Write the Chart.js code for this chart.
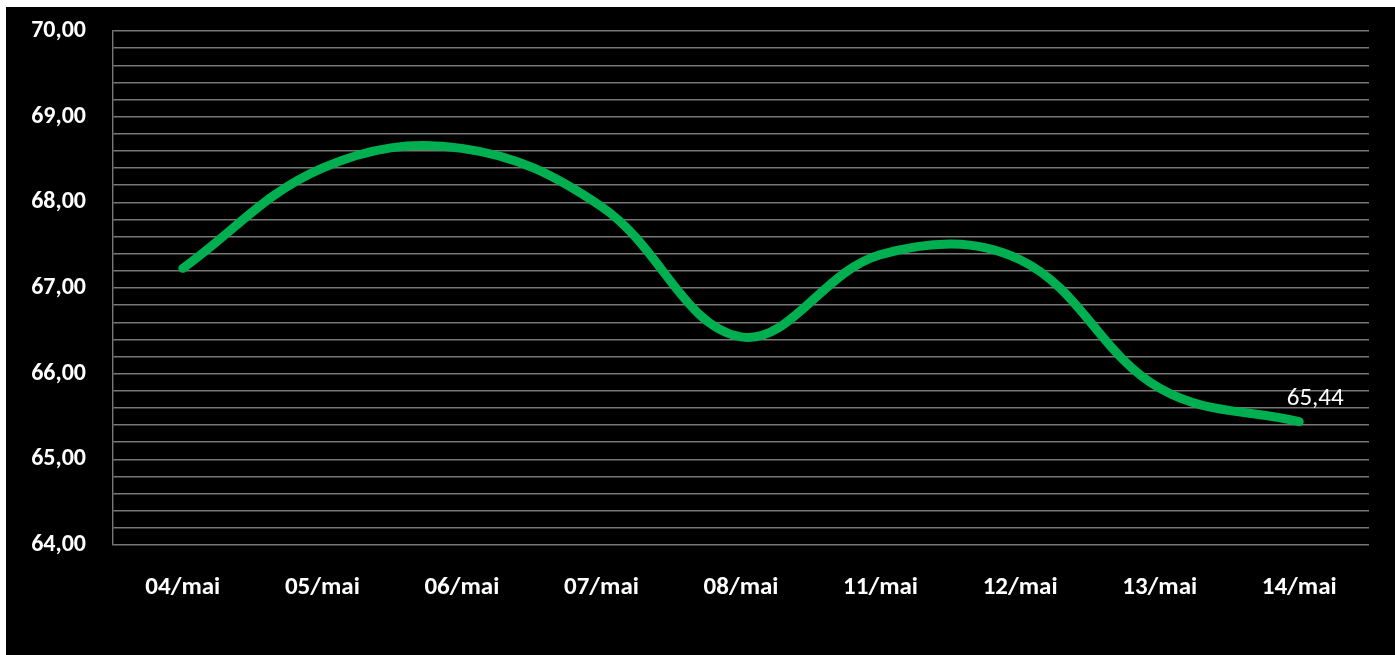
<!DOCTYPE html>
<html>
<head>
<meta charset="utf-8">
<script src="https://cdn.jsdelivr.net/npm/chart.js@4/dist/chart.umd.min.js"></script>
<style>
  html, body { margin:0; padding:0; background:#fff; }
  #wrap { position:absolute; left:6px; top:7px; width:1389px; height:648px; background:#000; }
</style>
</head>
<body>
<div id="wrap"><canvas id="chart-line"></canvas></div>
<script>
// ---- dados ----
const labels = ['04/mai','05/mai','06/mai','07/mai','08/mai','11/mai','12/mai','13/mai','14/mai'];
const values = [67.23, 68.40, 68.63, 67.95, 66.43, 67.39, 67.33, 65.83, 65.44];
const yMin = 64, yMax = 70, yStep = 0.2;

const FONT = 'Carlito, Lato, sans-serif';
const fmt = v => v.toFixed(2).replace('.', ',');

// rótulo só no último ponto
const lastLabel = {
  id: 'lastLabel',
  afterDatasetsDraw(chart){
    const meta = chart.getDatasetMeta(0);
    const i = values.length - 1;
    const pt = meta.data[i];
    const ctx = chart.ctx;
    ctx.save();
    ctx.fillStyle = '#fff';
    ctx.font = '25px ' + FONT;
    ctx.textAlign = 'center';
    ctx.textBaseline = 'alphabetic';
    ctx.fillText(fmt(values[i]), pt.x + 16, pt.y - 17);
    ctx.restore();
  }
};

const gridGrey = '#777';

new Chart(document.getElementById('chart-line'), {
  type: 'line',
  data: {
    labels: labels,
    datasets: [{
      data: values,
      borderColor: '#00b050', borderWidth: 9, borderCapStyle: 'round', borderJoinStyle: 'round',
      tension: .38, pointRadius: 0, fill: false
    }]
  },
  options: {
    responsive: true, maintainAspectRatio: false, animation: false,
    layout: { padding: { top: 24, right: 26, left: 0, bottom: 0 } },
    plugins: { legend: { display:false }, tooltip: { enabled:false } },
    scales: {
      x: {
        offset: true,
        grid: { display:false, drawTicks:false },
        border: { display:false },
        ticks: { color:'#fff', font:{ family:FONT, size:25, weight:'bold' }, padding: 28, maxRotation:0, autoSkip:false },
        afterFit(s){ s.height = 110; s.paddingLeft = 0; s.paddingRight = 0; }
      },
      y: {
        min: yMin, max: yMax,
        grid: { color: gridGrey, lineWidth: 1.4, drawTicks:false },
        border: { display:true, color: gridGrey, width: 1.4 },
        ticks: {
          stepSize: yStep, maxTicksLimit: 100, autoSkip:false,
          color:'#fff', font:{ family:FONT, size:24, weight:'bold' }, padding: 27,
          callback: v => Math.abs(v - Math.round(v)) < 1e-6 ? fmt(Math.round(v)) : ''
        },
        afterFit(s){ s.width = 107; s.paddingTop = 0; s.paddingBottom = 0; }
      }
    }
  },
  plugins: [lastLabel]
});
</script>
</body>
</html>
